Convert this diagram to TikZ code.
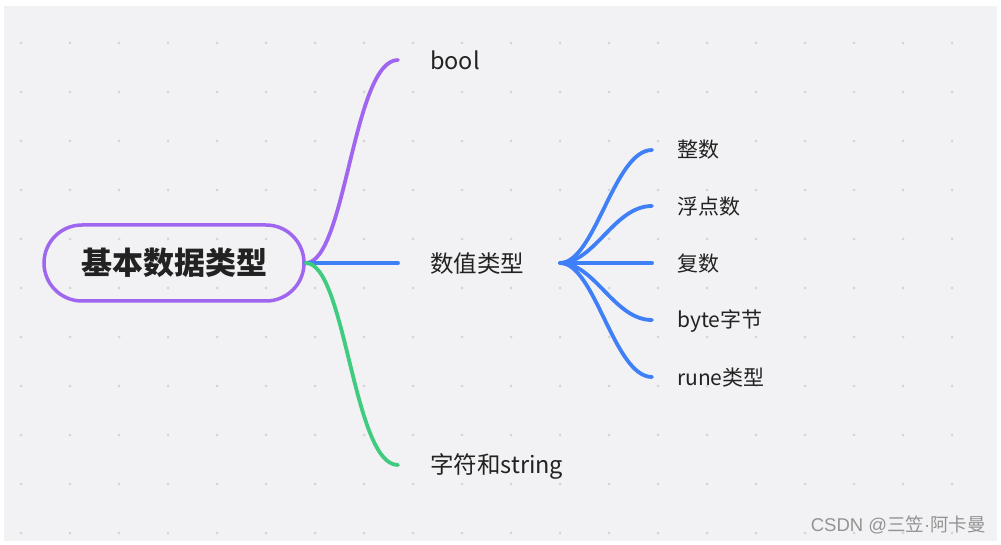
\documentclass[tikz,border=0pt]{standalone}
\usepackage{fontspec}
\setmainfont{Noto Sans CJK SC}
\newfontfamily\wmlatin{Liberation Sans}
\usetikzlibrary{calc}
\definecolor{bgc}{HTML}{F2F2F4}
\definecolor{dotc}{HTML}{D4D4D8}
\definecolor{purp}{HTML}{A066F0}
\definecolor{blu}{HTML}{3F7FF7}
\definecolor{grn}{HTML}{40CC80}
\definecolor{txt}{HTML}{222222}
\tikzset{
  rootbox/.style={draw=purp, line width=3.5pt, rounded corners=38pt, minimum width=260pt, minimum height=76pt, text=txt, font=\fontsize{31}{36}\selectfont\bfseries},
  lvlone/.style={anchor=west, inner sep=0pt, text=txt, font=\fontsize{23.5}{28}\selectfont},
  lvltwo/.style={anchor=west, inner sep=0pt, text=txt, font=\fontsize{21}{25}\selectfont},
  branch/.style={line width=3.8pt, line cap=round},
  mark0/.style={anchor=east, inner sep=0pt, text=gray!85, font=\fontsize{18.5}{22}\selectfont}
}
\begin{document}
\begin{tikzpicture}[x=1pt,y=-1pt]
\useasboundingbox (0,0) rectangle (1001,545);
\fill[white] (0,0) rectangle (1001,545);
\fill[bgc] (4,6) rectangle (997,541);
\foreach \i in {0,...,19} {
  \foreach \j in {0,...,10} {
    \fill[dotc] (21+49*\i, 43+49*\j) circle (1.5pt);
  }
}
\node[rootbox] (root) at (174,263) {基本数据类型};
\node[lvlone] (bool) at (430,60) {bool};
\node[lvlone] (num) at (430,264) {数值类型};
\node[lvlone] (str) at (430,466) {字符和string};
\coordinate (hub) at (560,263);
\node[lvltwo] (n1) at (677,150) {整数};
\node[lvltwo] (n2) at (677,207) {浮点数};
\node[lvltwo] (n3) at (677,264) {复数};
\node[lvltwo] (n4) at (677,321) {byte字节};
\node[lvltwo] (n5) at (677,378) {rune类型};
% main branches
\draw[branch, purp] (root.east) .. controls +(40,0) and +(-45,0) .. ([xshift=-32pt]bool.west |- 0,60);
\draw[branch, blu] (root.east) -- ([xshift=-32pt]num.west |- 0,263);
\draw[branch, grn] (root.east) .. controls +(40,0) and +(-45,0) .. ([xshift=-32pt]str.west |- 0,465);
% sub branches
\draw[branch, blu] (hub) .. controls +(35,0) and +(-38,0) .. ([xshift=-25pt]n1.west |- 0,150);
\draw[branch, blu] (hub) .. controls +(35,0) and +(-38,0) .. ([xshift=-25pt]n2.west |- 0,206);
\draw[branch, blu] (hub) -- ([xshift=-25pt]n3.west |- 0,263);
\draw[branch, blu] (hub) .. controls +(35,0) and +(-38,0) .. ([xshift=-25pt]n4.west |- 0,320);
\draw[branch, blu] (hub) .. controls +(35,0) and +(-38,0) .. ([xshift=-25pt]n5.west |- 0,377);
\node[mark0] (wm) at (986,525) {{\wmlatin CSDN @}三笠{\wmlatin ·}阿卡曼};
\end{tikzpicture}
\end{document}
